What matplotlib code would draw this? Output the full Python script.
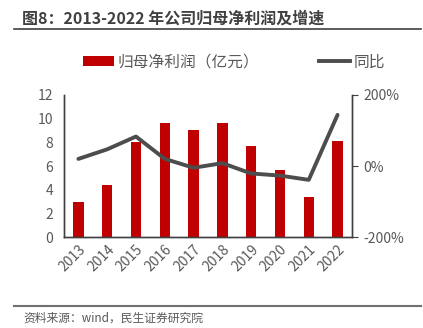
import numpy as np
import matplotlib.pyplot as plt
from matplotlib.lines import Line2D
from matplotlib.patches import Patch

plt.rcParams["font.family"] = ["Noto Sans CJK SC", "DejaVu Sans"]

years = ["2013", "2014", "2015", "2016", "2017", "2018", "2019", "2020", "2021", "2022"]
profit = [3.0, 4.4, 8.0, 9.6, 9.0, 9.6, 7.7, 5.7, 3.4, 8.1]   # 亿元
yoy = [20, 47, 83, 20, -5, 8, -21, -27, -39, 144]               # %

RED = "#C00000"
GRAY = "#4D4D4D"
TXT = "#595959"

fig = plt.figure(figsize=(4.23, 3.28), dpi=100)
ax = fig.add_axes([0.1513, 0.2774, 0.6807, 0.433])
ax2 = ax.twinx()

x = np.arange(len(years))
ax.bar(x, profit, width=0.36, color=RED, zorder=2)
ax2.plot(x, yoy, color=GRAY, lw=2.8, solid_capstyle="round", zorder=3)

ax.set_xlim(-0.5, len(years) - 0.5)
ax.set_ylim(0, 12)
ax.set_yticks(range(0, 13, 2))
ax2.set_ylim(-200, 200)
ax2.set_yticks([-200, 0, 200])
ax2.set_yticklabels(["-200%", "0%", "200%"])

ax.set_xticks(x)
ax.set_xticklabels(years, rotation=45, ha="right", rotation_mode="anchor")

for a in (ax, ax2):
    a.spines["top"].set_visible(False)
    for s in ("left", "right", "bottom"):
        a.spines[s].set_color("#404040")
        a.spines[s].set_linewidth(1.0)
ax.tick_params(axis="y", length=0, labelsize=10, labelcolor=TXT, pad=8)
ax.tick_params(axis="x", length=0, labelsize=10, labelcolor=TXT, pad=4)
ax2.tick_params(axis="y", length=4, direction="out", color="#404040",
                labelsize=10, labelcolor=TXT, pad=4)

handles = [Patch(facecolor=RED, edgecolor="none"),
           Line2D([0], [0], color=GRAY, lw=2.8)]
fig.legend(handles, ["归母净利润（亿元）", "同比"], loc="center",
           bbox_to_anchor=(0.553, 0.811), ncol=2, frameon=False,
           fontsize=11.3, labelcolor=TXT, handlelength=2.0, handletextpad=0.2,
           columnspacing=3.8, handleheight=0.6)

fig.text(0.052, 0.944, "图8：2013-2022 年公司归母净利润及增速", fontsize=11.5,
         fontweight="bold", color="#404040", va="center", ha="left")
fig.add_artist(Line2D([0.033, 0.995], [0.913, 0.913], color="#404040", lw=1.2))
fig.add_artist(Line2D([0.033, 0.995], [0.067, 0.067], color="#707070", lw=1.5))
fig.text(0.055, 0.03, "资料来源：wind，民生证券研究院", fontsize=8.5,
         color=TXT, va="center", ha="left")

fig.savefig("out.png", dpi=100)
